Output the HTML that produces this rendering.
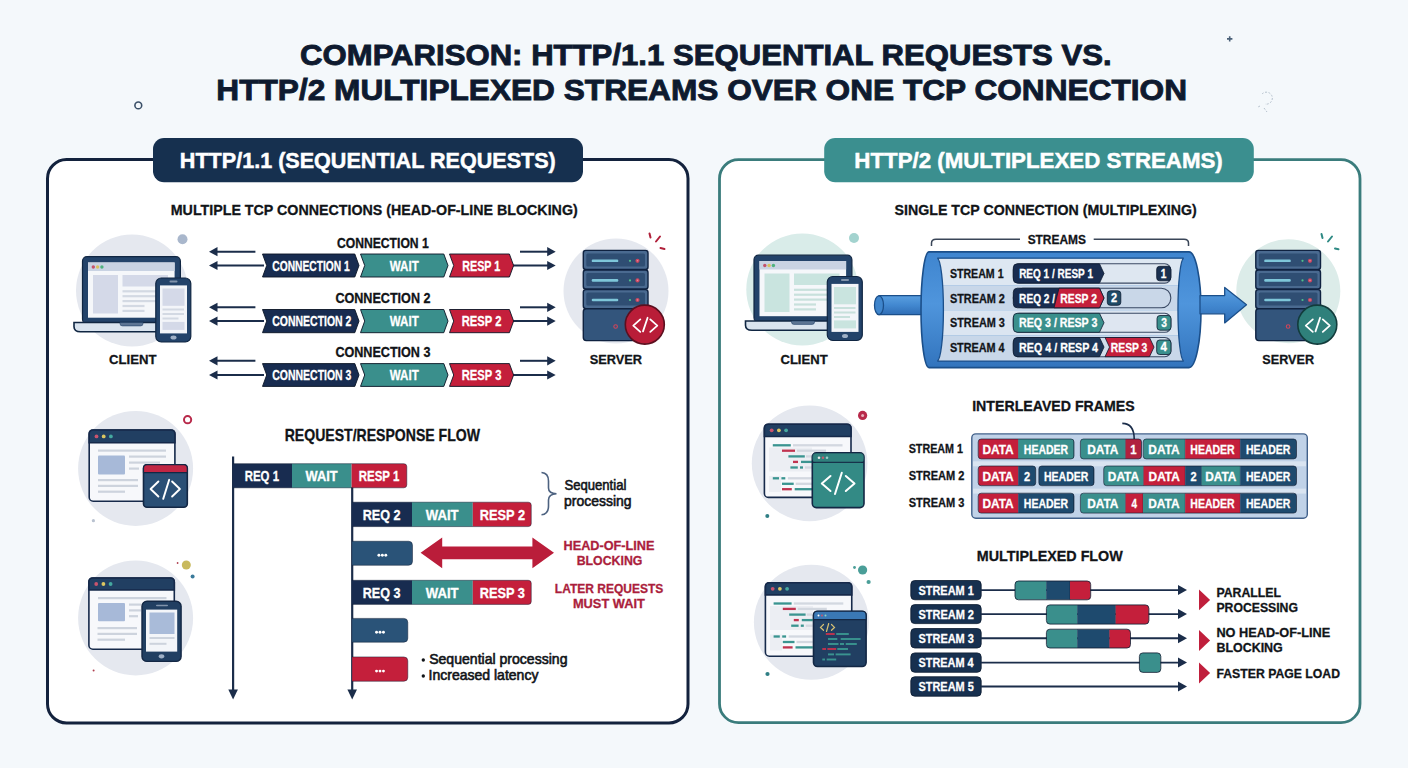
<!DOCTYPE html>
<html><head><meta charset="utf-8"><style>
html,body{margin:0;padding:0;width:1408px;height:768px;overflow:hidden;background:#f4f8fb}
svg{display:block;font-family:"Liberation Sans",sans-serif}
</style></head><body>
<svg width="1408" height="768" viewBox="0 0 1408 768">
<rect x="0" y="0" width="1408" height="768" fill="#f4f8fb"/>
<circle cx="138.3" cy="105.4" r="3.4" fill="none" stroke="#3b5068" stroke-width="1.6"/>
<path d="M1227 38.9h5.4M1229.7 36.2v5.4" stroke="#4a6078" stroke-width="1.6"/>
<path d="M1262 94 a6 6 0 1 1 3 10 M1260 106 l-2 1 M1264 108 l3 4" fill="none" stroke="#b0bcc8" stroke-width="0.9" stroke-dasharray="2 1.5"/>
<text x="300.03" y="64.80" font-size="30.38" font-weight="bold" fill="#0e1a2f" textLength="811.61" lengthAdjust="spacingAndGlyphs" stroke="#0e1a2f" stroke-width="0.90">COMPARISON: HTTP/1.1 SEQUENTIAL REQUESTS VS.</text>
<text x="216.39" y="100.20" font-size="30.23" font-weight="bold" fill="#0e1a2f" textLength="970.63" lengthAdjust="spacingAndGlyphs" stroke="#0e1a2f" stroke-width="0.90">HTTP/2 MULTIPLEXED STREAMS OVER ONE TCP CONNECTION</text>
<rect x="47.5" y="159.5" width="640.5" height="563.4" rx="19" fill="#ffffff" stroke="#13223d" stroke-width="3"/>
<rect x="153" y="138" width="430" height="44.2" rx="11" fill="#16304f"/>
<text x="179.86" y="167.80" font-size="22.24" font-weight="bold" fill="#ffffff" textLength="375.91" lengthAdjust="spacingAndGlyphs" stroke="#ffffff" stroke-width="0.50">HTTP/1.1 (SEQUENTIAL REQUESTS)</text>
<text x="170.75" y="215.20" font-size="15.12" font-weight="bold" fill="#111418" textLength="406.96" lengthAdjust="spacingAndGlyphs" stroke="#111418" stroke-width="0.30">MULTIPLE TCP CONNECTIONS (HEAD-OF-LINE BLOCKING)</text>
<rect x="719.5" y="159.7" width="640.5" height="563" rx="19" fill="#ffffff" stroke="#3a7c7c" stroke-width="2.8"/>
<rect x="824.2" y="138" width="429.6" height="44.2" rx="11" fill="#3b8f8f"/>
<text x="854.32" y="167.80" font-size="22.24" font-weight="bold" fill="#ffffff" textLength="368.49" lengthAdjust="spacingAndGlyphs" stroke="#ffffff" stroke-width="0.50">HTTP/2 (MULTIPLEXED STREAMS)</text>
<text x="894.59" y="215.20" font-size="15.12" font-weight="bold" fill="#111418" textLength="302.11" lengthAdjust="spacingAndGlyphs" stroke="#111418" stroke-width="0.30">SINGLE TCP CONNECTION (MULTIPLEXING)</text>
<circle cx="132" cy="290.6" r="56" fill="#e5e8ef"/>
<circle cx="182.5" cy="239.2" r="5" fill="#a9b7cc"/>
<rect x="82.50" y="256.70" width="97.9" height="67" rx="4.5" fill="#23436a" stroke="#102642" stroke-width="1.2"/><rect x="88.00" y="262.50" width="86.6" height="55.2" fill="#f5f7fa"/><rect x="88.00" y="262.50" width="86.6" height="8.5" fill="#c9d3e3"/><circle cx="93.30" cy="267.00" r="1.7" fill="#c4526c"/><circle cx="97.60" cy="267.00" r="1.7" fill="#d8c25e"/><circle cx="101.90" cy="267.00" r="1.7" fill="#4fb27e"/><rect x="93.00" y="275.00" width="25" height="38.5" fill="#d4d9e8"/><rect x="122.50" y="275.00" width="45.5" height="11.5" fill="#d4d9e8"/><rect x="122.50" y="290.20" width="42" height="2.2" fill="#d3d9e3"/><rect x="122.50" y="295.10" width="42" height="2.2" fill="#d3d9e3"/><rect x="122.50" y="300.00" width="42" height="2.2" fill="#d3d9e3"/><rect x="122.50" y="304.90" width="22" height="2.2" fill="#d3d9e3"/><rect x="122.50" y="309.80" width="22" height="2.2" fill="#d3d9e3"/><path d="M74.00 322.50 H189.00 a3 3 0 0 1 0 0 L189.00 326.70 Q189.00 331.70 182.50 331.70 H80.50 Q74.00 331.70 74.00 326.70 Z" fill="#d9e3ee" stroke="#102642" stroke-width="1.6"/><path d="M120.00 322.50 h23 v1.2 q0 2.2 -2.5 2.2 h-18 q-2.5 0 -2.5 -2.2 z" fill="#5d7594" stroke="#23436a" stroke-width="0.6"/><rect x="155.80" y="278.00" width="35" height="64" rx="5.5" fill="#23436a" stroke="#102642" stroke-width="1.2"/><rect x="160.00" y="285.40" width="27" height="48" fill="#f3f5f9"/><rect x="169.50" y="280.60" width="8" height="1.8" rx="0.9" fill="#8193ab"/><ellipse cx="173.50" cy="337.50" rx="3" ry="2" fill="#9fb0c6"/><rect x="162.50" y="288.50" width="22" height="17.3" fill="#d4d9e8"/><rect x="162.50" y="308.50" width="21.5" height="2" fill="#d3d9e3"/><rect x="162.50" y="313.00" width="21.5" height="2" fill="#d3d9e3"/><rect x="162.50" y="317.50" width="16.0" height="2" fill="#d3d9e3"/><rect x="162.50" y="321.90" width="22" height="8" fill="#d4d9e8"/>
<text x="109.06" y="363.50" font-size="13.66" font-weight="bold" fill="#111418" textLength="47.38" lengthAdjust="spacingAndGlyphs" stroke="#111418" stroke-width="0.30">CLIENT</text>
<circle cx="616" cy="291" r="52.5" fill="#e5e8ef"/>
<rect x="583.30" y="250.40" width="64.70" height="19" rx="2.5" fill="#4a6a90" stroke="#0f2240" stroke-width="1.4"/><rect x="586.30" y="253.40" width="58.70" height="13" rx="1.5" fill="#2f4e73"/><rect x="591.70" y="259.50" width="26.6" height="2.6" rx="1.2" fill="#7ec6d9"/><circle cx="630.00" cy="260.80" r="1.1" fill="#4fc08a"/><circle cx="637.50" cy="260.80" r="2.1" fill="#c94660"/><circle cx="637.50" cy="260.80" r="0.8" fill="#e88a9a"/><rect x="583.30" y="270.00" width="64.70" height="19" rx="2.5" fill="#4a6a90" stroke="#0f2240" stroke-width="1.4"/><rect x="586.30" y="273.00" width="58.70" height="13" rx="1.5" fill="#2f4e73"/><rect x="591.70" y="279.10" width="26.6" height="2.6" rx="1.2" fill="#7ec6d9"/><circle cx="630.00" cy="280.40" r="1.1" fill="#4fc08a"/><circle cx="637.50" cy="280.40" r="2.1" fill="#c94660"/><circle cx="637.50" cy="280.40" r="0.8" fill="#e88a9a"/><rect x="583.30" y="289.60" width="64.70" height="19" rx="2.5" fill="#4a6a90" stroke="#0f2240" stroke-width="1.4"/><rect x="586.30" y="292.60" width="58.70" height="13" rx="1.5" fill="#2f4e73"/><rect x="591.70" y="298.70" width="26.6" height="2.6" rx="1.2" fill="#7ec6d9"/><circle cx="630.00" cy="300.00" r="1.1" fill="#4fc08a"/><circle cx="637.50" cy="300.00" r="2.1" fill="#c94660"/><circle cx="637.50" cy="300.00" r="0.8" fill="#e88a9a"/><rect x="583.30" y="308.80" width="64.70" height="31.8" rx="3" fill="#33557c" stroke="#0f2240" stroke-width="1.4"/><circle cx="615.60" cy="326.50" r="1.8" fill="none" stroke="#d0455a" stroke-width="1.1"/><circle cx="644.80" cy="324.60" r="19.5" fill="#b91d38" stroke="#5c0f1f" stroke-width="1.6"/><path d="M640.30 319.40l-7 6.2 7 6.2M650.30 319.40l7 6.2-7 6.2M647.60 317.80l-4.6 13.6" fill="none" stroke="#fff" stroke-width="1.8" stroke-linecap="round" stroke-linejoin="round"/>
<path d="M649.5 233.5l1 4M656 241.5l4-5M660.5 248l4 1" stroke="#b0203a" stroke-width="2" stroke-linecap="round"/>
<text x="589.63" y="363.50" font-size="13.66" font-weight="bold" fill="#111418" textLength="52.33" lengthAdjust="spacingAndGlyphs" stroke="#111418" stroke-width="0.30">SERVER</text>
<text x="337.00" y="248.20" font-size="13.81" font-weight="bold" fill="#111418" textLength="91.74" lengthAdjust="spacingAndGlyphs" stroke="#111418" stroke-width="0.30">CONNECTION 1</text>
<path d="M216.50 251.70H255.40" stroke="#1b2d4a" stroke-width="2.00"/><polygon points="209.00,251.70 217.50,247.10 217.50,256.30" fill="#1b2d4a"/>
<path d="M216.50 265.50H264.00" stroke="#1b2d4a" stroke-width="2.00"/><polygon points="209.00,265.50 217.50,260.90 217.50,270.10" fill="#1b2d4a"/>
<path d="M520.00 251.70H548.20" stroke="#1b2d4a" stroke-width="2.00"/><polygon points="555.70,251.70 547.20,247.10 547.20,256.30" fill="#1b2d4a"/>
<path d="M513.00 265.50H548.20" stroke="#1b2d4a" stroke-width="2.00"/><polygon points="555.70,265.50 547.20,260.90 547.20,270.10" fill="#1b2d4a"/>
<polygon points="262.50,254.00 354.80,254.00 359.00,265.50 354.80,277.00 262.50,277.00 266.70,265.50" fill="#182c50" stroke="#0b1526" stroke-width="0.9" stroke-linejoin="round"/>
<polygon points="360.50,254.00 443.80,254.00 448.00,265.50 443.80,277.00 360.50,277.00 364.70,265.50" fill="#3a8f8c" stroke="#0b1526" stroke-width="0.9" stroke-linejoin="round"/>
<polygon points="449.50,254.00 509.40,254.00 513.60,265.50 509.40,277.00 449.50,277.00 453.70,265.50" fill="#c41f3b" stroke="#0b1526" stroke-width="0.9" stroke-linejoin="round"/>
<text x="272.28" y="270.70" font-size="13.95" font-weight="bold" fill="#fff" textLength="77.51" lengthAdjust="spacingAndGlyphs" stroke="#fff" stroke-width="0.30">CONNECTION 1</text>
<text x="389.79" y="270.70" font-size="13.95" font-weight="bold" fill="#fff" textLength="28.93" lengthAdjust="spacingAndGlyphs" stroke="#fff" stroke-width="0.30">WAIT</text>
<text x="462.29" y="270.70" font-size="13.95" font-weight="bold" fill="#fff" textLength="38.01" lengthAdjust="spacingAndGlyphs" stroke="#fff" stroke-width="0.30">RESP 1</text>
<text x="335.38" y="303.20" font-size="13.81" font-weight="bold" fill="#111418" textLength="95.12" lengthAdjust="spacingAndGlyphs" stroke="#111418" stroke-width="0.30">CONNECTION 2</text>
<path d="M216.50 307.30H255.40" stroke="#1b2d4a" stroke-width="2.00"/><polygon points="209.00,307.30 217.50,302.70 217.50,311.90" fill="#1b2d4a"/>
<path d="M216.50 321.10H264.00" stroke="#1b2d4a" stroke-width="2.00"/><polygon points="209.00,321.10 217.50,316.50 217.50,325.70" fill="#1b2d4a"/>
<path d="M520.00 307.30H548.20" stroke="#1b2d4a" stroke-width="2.00"/><polygon points="555.70,307.30 547.20,302.70 547.20,311.90" fill="#1b2d4a"/>
<path d="M513.00 321.10H548.20" stroke="#1b2d4a" stroke-width="2.00"/><polygon points="555.70,321.10 547.20,316.50 547.20,325.70" fill="#1b2d4a"/>
<polygon points="262.50,309.50 354.80,309.50 359.00,321.10 354.80,332.70 262.50,332.70 266.70,321.10" fill="#182c50" stroke="#0b1526" stroke-width="0.9" stroke-linejoin="round"/>
<polygon points="360.50,309.50 443.80,309.50 448.00,321.10 443.80,332.70 360.50,332.70 364.70,321.10" fill="#3a8f8c" stroke="#0b1526" stroke-width="0.9" stroke-linejoin="round"/>
<polygon points="449.50,309.50 509.40,309.50 513.60,321.10 509.40,332.70 449.50,332.70 453.70,321.10" fill="#c41f3b" stroke="#0b1526" stroke-width="0.9" stroke-linejoin="round"/>
<text x="272.27" y="326.20" font-size="13.95" font-weight="bold" fill="#fff" textLength="79.15" lengthAdjust="spacingAndGlyphs" stroke="#fff" stroke-width="0.30">CONNECTION 2</text>
<text x="389.79" y="326.20" font-size="13.95" font-weight="bold" fill="#fff" textLength="28.93" lengthAdjust="spacingAndGlyphs" stroke="#fff" stroke-width="0.30">WAIT</text>
<text x="461.75" y="326.20" font-size="13.95" font-weight="bold" fill="#fff" textLength="39.69" lengthAdjust="spacingAndGlyphs" stroke="#fff" stroke-width="0.30">RESP 2</text>
<text x="335.38" y="356.80" font-size="13.81" font-weight="bold" fill="#111418" textLength="95.07" lengthAdjust="spacingAndGlyphs" stroke="#111418" stroke-width="0.30">CONNECTION 3</text>
<path d="M216.50 360.80H255.40" stroke="#1b2d4a" stroke-width="2.00"/><polygon points="209.00,360.80 217.50,356.20 217.50,365.40" fill="#1b2d4a"/>
<path d="M216.50 375.00H264.00" stroke="#1b2d4a" stroke-width="2.00"/><polygon points="209.00,375.00 217.50,370.40 217.50,379.60" fill="#1b2d4a"/>
<path d="M520.00 360.80H548.20" stroke="#1b2d4a" stroke-width="2.00"/><polygon points="555.70,360.80 547.20,356.20 547.20,365.40" fill="#1b2d4a"/>
<path d="M513.00 375.00H548.20" stroke="#1b2d4a" stroke-width="2.00"/><polygon points="555.70,375.00 547.20,370.40 547.20,379.60" fill="#1b2d4a"/>
<polygon points="262.50,363.60 354.80,363.60 359.00,375.00 354.80,386.40 262.50,386.40 266.70,375.00" fill="#182c50" stroke="#0b1526" stroke-width="0.9" stroke-linejoin="round"/>
<polygon points="360.50,363.60 443.80,363.60 448.00,375.00 443.80,386.40 360.50,386.40 364.70,375.00" fill="#3a8f8c" stroke="#0b1526" stroke-width="0.9" stroke-linejoin="round"/>
<polygon points="449.50,363.60 509.40,363.60 513.60,375.00 509.40,386.40 449.50,386.40 453.70,375.00" fill="#c41f3b" stroke="#0b1526" stroke-width="0.9" stroke-linejoin="round"/>
<text x="272.27" y="380.30" font-size="13.95" font-weight="bold" fill="#fff" textLength="79.11" lengthAdjust="spacingAndGlyphs" stroke="#fff" stroke-width="0.30">CONNECTION 3</text>
<text x="389.79" y="380.30" font-size="13.95" font-weight="bold" fill="#fff" textLength="28.93" lengthAdjust="spacingAndGlyphs" stroke="#fff" stroke-width="0.30">WAIT</text>
<text x="461.75" y="380.30" font-size="13.95" font-weight="bold" fill="#fff" textLength="39.65" lengthAdjust="spacingAndGlyphs" stroke="#fff" stroke-width="0.30">RESP 3</text>
<circle cx="135.6" cy="468.4" r="57.5" fill="#e5e8ef"/>
<circle cx="187.6" cy="419.7" r="3.6" fill="none" stroke="#b8294a" stroke-width="2"/>
<circle cx="93.4" cy="520.7" r="1.6" fill="#b9c2d0"/>
<rect x="89.20" y="430.00" width="85.70" height="71.20" rx="4" fill="#f7f8fb" stroke="#16294a" stroke-width="1.6"/><path d="M89.20 442.80 V434.00 Q89.20 430.00 93.20 430.00 H170.90 Q174.90 430.00 174.90 434.00 V442.80 Z" fill="#213f62" stroke="#16294a" stroke-width="1.6"/><circle cx="96.50" cy="436.40" r="1.9" fill="#c9546e"/><circle cx="103.70" cy="436.40" r="1.9" fill="#dcc661"/><circle cx="110.90" cy="436.40" r="1.9" fill="#45a9a0"/>
<rect x="98" y="449.5" width="68" height="2.2" fill="#cdd3dd"/>
<rect x="98" y="455.5" width="27" height="19" rx="1" fill="#a7b9d8"/>
<rect x="129" y="455.50" width="37" height="2.2" fill="#cdd3dd"/>
<rect x="129" y="461.50" width="31" height="2.2" fill="#cdd3dd"/>
<rect x="129" y="467.50" width="10" height="2.2" fill="#cdd3dd"/>
<rect x="98" y="479.00" width="40" height="2.2" fill="#cdd3dd"/>
<rect x="98" y="484.80" width="40" height="2.2" fill="#cdd3dd"/>
<rect x="98" y="490.60" width="27" height="2.2" fill="#cdd3dd"/>
<rect x="143.5" y="464.7" width="43.8" height="42.5" rx="3.5" fill="#2a4f75" stroke="#132744" stroke-width="1.6"/>
<path d="M143.5 472.6 V468.2 Q143.5 464.7 147 464.7 H183.8 Q187.3 464.7 187.3 468.2 V472.6 Z" fill="#c12644" stroke="#132744" stroke-width="1.2"/>
<path d="M158.4 481.5L150.6 489 158.4 496.5M172.1 481.5L179.9 489 172.1 496.5M169.2 479.8L163.2 498.9" fill="none" stroke="#fff" stroke-width="1.9" stroke-linecap="round" stroke-linejoin="round"/>
<circle cx="135.6" cy="617.9" r="57.5" fill="#e5e8ef"/>
<circle cx="186.3" cy="565" r="4.5" fill="#c8b95c"/>
<circle cx="192.6" cy="576.5" r="2" fill="#3a7a9a"/>
<circle cx="177.6" cy="563" r="0.9" fill="#b04050"/>
<circle cx="93.6" cy="670.6" r="1" fill="#b04050"/>
<rect x="88.90" y="578.00" width="85.40" height="71.20" rx="4" fill="#f7f8fb" stroke="#16294a" stroke-width="1.6"/><path d="M88.90 590.00 V582.00 Q88.90 578.00 92.90 578.00 H170.30 Q174.30 578.00 174.30 582.00 V590.00 Z" fill="#213f62" stroke="#16294a" stroke-width="1.6"/><circle cx="96.20" cy="584.00" r="1.9" fill="#c9546e"/><circle cx="103.40" cy="584.00" r="1.9" fill="#dcc661"/><circle cx="110.60" cy="584.00" r="1.9" fill="#45a9a0"/>
<rect x="98" y="597" width="68.5" height="2.2" fill="#cdd3dd"/>
<rect x="98" y="603" width="27" height="18.3" rx="1" fill="#a7b9d8"/>
<rect x="129" y="603.50" width="12" height="2.2" fill="#cdd3dd"/>
<rect x="129" y="609.30" width="12" height="2.2" fill="#cdd3dd"/>
<rect x="129" y="615.10" width="9" height="2.2" fill="#cdd3dd"/>
<rect x="97.5" y="627.00" width="39.5" height="2.2" fill="#cdd3dd"/>
<rect x="97.5" y="632.80" width="39.5" height="2.2" fill="#cdd3dd"/>
<rect x="97.5" y="638.60" width="27.5" height="2.2" fill="#cdd3dd"/>
<rect x="142" y="601.2" width="39.1" height="60.2" rx="5" fill="#213f62" stroke="#132744" stroke-width="1.4"/>
<rect x="146" y="609.6" width="31.2" height="42" fill="#f3f5f9"/>
<rect x="149.5" y="612.5" width="25" height="21.5" fill="#a9bbd9"/>
<rect x="149.5" y="637" width="25" height="2" fill="#cdd3dd"/>
<rect x="149.5" y="642.8" width="17" height="2" fill="#cdd3dd"/>
<rect x="156" y="604.7" width="12" height="1.6" rx="0.8" fill="#8193ab"/>
<ellipse cx="161.5" cy="656.3" rx="2.8" ry="2.1" fill="#9fb0c6"/>
<text x="284.66" y="440.80" font-size="15.70" font-weight="bold" fill="#111418" textLength="195.35" lengthAdjust="spacingAndGlyphs" stroke="#111418" stroke-width="0.30">REQUEST/RESPONSE FLOW</text>
<path d="M233.1 456.5V692" stroke="#1b2d4a" stroke-width="2.2"/>
<polygon points="233.1,699.5 228.3,689.5 237.9,689.5" fill="#1b2d4a"/>
<path d="M352.2 487V692" stroke="#1b2d4a" stroke-width="2.2"/>
<polygon points="352.2,699.5 347.4,689.5 357,689.5" fill="#1b2d4a"/>
<rect x="233.10" y="463.70" width="58.90" height="24.10" fill="#182c50"/><rect x="292.00" y="463.70" width="59.60" height="24.10" fill="#3a8f8c"/><path d="M351.60 463.70 H403.80 Q406.80 463.70 406.80 466.70 V484.80 Q406.80 487.80 403.80 487.80 H351.60 Z" fill="#c41f3b"/><path d="M233.10 463.70 H403.80 Q406.80 463.70 406.80 466.70 V484.80 Q406.80 487.80 403.80 487.80 H233.10" fill="none" stroke="#0d1a30" stroke-width="0.8" opacity="0.6"/>
<text x="244.74" y="480.90" font-size="13.95" font-weight="bold" fill="#fff" textLength="34.28" lengthAdjust="spacingAndGlyphs" stroke="#fff" stroke-width="0.30">REQ 1</text>
<text x="305.49" y="480.90" font-size="13.95" font-weight="bold" fill="#fff" textLength="32.15" lengthAdjust="spacingAndGlyphs" stroke="#fff" stroke-width="0.30">WAIT</text>
<text x="358.74" y="480.90" font-size="13.95" font-weight="bold" fill="#fff" textLength="40.58" lengthAdjust="spacingAndGlyphs" stroke="#fff" stroke-width="0.30">RESP 1</text>
<rect x="352.20" y="502.20" width="59.80" height="24.40" fill="#182c50"/><rect x="412.00" y="502.20" width="60.80" height="24.40" fill="#3a8f8c"/><path d="M472.80 502.20 H528.25 Q531.25 502.20 531.25 505.20 V523.60 Q531.25 526.60 528.25 526.60 H472.80 Z" fill="#c41f3b"/><path d="M352.20 502.20 H528.25 Q531.25 502.20 531.25 505.20 V523.60 Q531.25 526.60 528.25 526.60 H352.20" fill="none" stroke="#0d1a30" stroke-width="0.8" opacity="0.6"/>
<text x="362.66" y="519.50" font-size="13.95" font-weight="bold" fill="#fff" textLength="37.85" lengthAdjust="spacingAndGlyphs" stroke="#fff" stroke-width="0.30">REQ 2</text>
<text x="425.79" y="519.50" font-size="13.95" font-weight="bold" fill="#fff" textLength="32.85" lengthAdjust="spacingAndGlyphs" stroke="#fff" stroke-width="0.30">WAIT</text>
<text x="479.75" y="519.50" font-size="13.95" font-weight="bold" fill="#fff" textLength="45.26" lengthAdjust="spacingAndGlyphs" stroke="#fff" stroke-width="0.30">RESP 2</text>
<rect x="352.20" y="580.30" width="59.80" height="24.10" fill="#182c50"/><rect x="412.00" y="580.30" width="60.80" height="24.10" fill="#3a8f8c"/><path d="M472.80 580.30 H528.25 Q531.25 580.30 531.25 583.30 V601.40 Q531.25 604.40 528.25 604.40 H472.80 Z" fill="#c41f3b"/><path d="M352.20 580.30 H528.25 Q531.25 580.30 531.25 583.30 V601.40 Q531.25 604.40 528.25 604.40 H352.20" fill="none" stroke="#0d1a30" stroke-width="0.8" opacity="0.6"/>
<text x="362.66" y="597.60" font-size="13.95" font-weight="bold" fill="#fff" textLength="37.80" lengthAdjust="spacingAndGlyphs" stroke="#fff" stroke-width="0.30">REQ 3</text>
<text x="425.79" y="597.60" font-size="13.95" font-weight="bold" fill="#fff" textLength="32.85" lengthAdjust="spacingAndGlyphs" stroke="#fff" stroke-width="0.30">WAIT</text>
<text x="479.75" y="597.60" font-size="13.95" font-weight="bold" fill="#fff" textLength="45.21" lengthAdjust="spacingAndGlyphs" stroke="#fff" stroke-width="0.30">RESP 3</text>
<path d="M352.20 541.25 H408.50 Q412.50 541.25 412.50 545.25 V561.30 Q412.50 565.30 408.50 565.30 H352.20 Z" fill="#2a5378"/><path d="M352.20 541.25 H408.50 Q412.50 541.25 412.50 545.25 V561.30 Q412.50 565.30 408.50 565.30 H352.20" fill="none" stroke="#0d1a30" stroke-width="0.8" opacity="0.6"/><circle cx="378.90" cy="555.27" r="1.45" fill="#fff"/><circle cx="382.35" cy="555.27" r="1.45" fill="#fff"/><circle cx="385.80" cy="555.27" r="1.45" fill="#fff"/>
<path d="M352.20 618.40 H403.80 Q407.80 618.40 407.80 622.40 V638.20 Q407.80 642.20 403.80 642.20 H352.20 Z" fill="#2a5378"/><path d="M352.20 618.40 H403.80 Q407.80 618.40 407.80 622.40 V638.20 Q407.80 642.20 403.80 642.20 H352.20" fill="none" stroke="#0d1a30" stroke-width="0.8" opacity="0.6"/><circle cx="376.55" cy="632.30" r="1.45" fill="#fff"/><circle cx="380.00" cy="632.30" r="1.45" fill="#fff"/><circle cx="383.45" cy="632.30" r="1.45" fill="#fff"/>
<path d="M352.20 656.90 H403.80 Q407.80 656.90 407.80 660.90 V677.25 Q407.80 681.25 403.80 681.25 H352.20 Z" fill="#c41f3b"/><path d="M352.20 656.90 H403.80 Q407.80 656.90 407.80 660.90 V677.25 Q407.80 681.25 403.80 681.25 H352.20" fill="none" stroke="#0d1a30" stroke-width="0.8" opacity="0.6"/><circle cx="376.55" cy="671.08" r="1.45" fill="#fff"/><circle cx="380.00" cy="671.08" r="1.45" fill="#fff"/><circle cx="383.45" cy="671.08" r="1.45" fill="#fff"/>
<polygon points="420.6,552.8 442.2,537.5 442.2,546.6 532.4,546.6 532.4,537.5 554,552.8 532.4,568.3 532.4,559.2 442.2,559.2 442.2,568.3" fill="#ba1d3a"/>
<path d="M541.5 472.5 Q548.5 473 548.5 481 V488 Q548.5 493.5 556.5 493.8 Q548.5 494.2 548.5 500 V506 Q548.5 514.3 541.5 514.7" fill="none" stroke="#4d6280" stroke-width="1.6"/>
<text x="564.40" y="490.40" font-size="14.68" font-weight="normal" fill="#111418" textLength="61.97" lengthAdjust="spacingAndGlyphs" stroke="#111418" stroke-width="0.6">Sequential</text>
<text x="564.10" y="505.60" font-size="14.68" font-weight="normal" fill="#111418" textLength="67.40" lengthAdjust="spacingAndGlyphs" stroke="#111418" stroke-width="0.6">processing</text>
<text x="563.55" y="549.50" font-size="13.37" font-weight="bold" fill="#ab1e3c" textLength="90.94" lengthAdjust="spacingAndGlyphs" stroke="#ab1e3c" stroke-width="0.30">HEAD-OF-LINE</text>
<text x="576.68" y="564.50" font-size="13.37" font-weight="bold" fill="#ab1e3c" textLength="65.69" lengthAdjust="spacingAndGlyphs" stroke="#ab1e3c" stroke-width="0.30">BLOCKING</text>
<text x="554.80" y="592.50" font-size="13.37" font-weight="bold" fill="#ab1e3c" textLength="108.46" lengthAdjust="spacingAndGlyphs" stroke="#ab1e3c" stroke-width="0.30">LATER REQUESTS</text>
<text x="572.90" y="607.50" font-size="13.37" font-weight="bold" fill="#ab1e3c" textLength="71.94" lengthAdjust="spacingAndGlyphs" stroke="#ab1e3c" stroke-width="0.30">MUST WAIT</text>
<circle cx="423.3" cy="660" r="1.7" fill="#111418"/>
<circle cx="423.3" cy="676" r="1.7" fill="#111418"/>
<text x="429.16" y="664.10" font-size="14.10" font-weight="normal" fill="#111418" textLength="138.34" lengthAdjust="spacingAndGlyphs" stroke="#111418" stroke-width="0.6">Sequential processing</text>
<text x="428.51" y="680.10" font-size="14.10" font-weight="normal" fill="#111418" textLength="109.92" lengthAdjust="spacingAndGlyphs" stroke="#111418" stroke-width="0.6">Increased latency</text>
<circle cx="802.3" cy="289.4" r="56" fill="#d9ece9"/>
<circle cx="854" cy="238" r="5" fill="#a3d3cf"/>
<rect x="754.00" y="255.20" width="97.9" height="67" rx="4.5" fill="#23436a" stroke="#102642" stroke-width="1.2"/><rect x="759.50" y="261.00" width="86.6" height="55.2" fill="#f5f7fa"/><rect x="759.50" y="261.00" width="86.6" height="8.5" fill="#c9d3e3"/><circle cx="764.80" cy="265.50" r="1.7" fill="#c4526c"/><circle cx="769.10" cy="265.50" r="1.7" fill="#d8c25e"/><circle cx="773.40" cy="265.50" r="1.7" fill="#4fb27e"/><rect x="764.50" y="273.50" width="25" height="38.5" fill="#c9e4df"/><rect x="794.00" y="273.50" width="45.5" height="11.5" fill="#c9e4df"/><rect x="794.00" y="288.70" width="42" height="2.2" fill="#c8e0dc"/><rect x="794.00" y="293.60" width="42" height="2.2" fill="#c8e0dc"/><rect x="794.00" y="298.50" width="42" height="2.2" fill="#c8e0dc"/><rect x="794.00" y="303.40" width="22" height="2.2" fill="#c8e0dc"/><rect x="794.00" y="308.30" width="22" height="2.2" fill="#c8e0dc"/><path d="M745.50 321.00 H860.50 a3 3 0 0 1 0 0 L860.50 325.20 Q860.50 330.20 854.00 330.20 H752.00 Q745.50 330.20 745.50 325.20 Z" fill="#d9e3ee" stroke="#102642" stroke-width="1.6"/><path d="M791.50 321.00 h23 v1.2 q0 2.2 -2.5 2.2 h-18 q-2.5 0 -2.5 -2.2 z" fill="#5d7594" stroke="#23436a" stroke-width="0.6"/><rect x="827.30" y="276.50" width="35" height="64" rx="5.5" fill="#23436a" stroke="#102642" stroke-width="1.2"/><rect x="831.50" y="283.90" width="27" height="48" fill="#f3f5f9"/><rect x="841.00" y="279.10" width="8" height="1.8" rx="0.9" fill="#8193ab"/><ellipse cx="845.00" cy="336.00" rx="3" ry="2" fill="#9fb0c6"/><rect x="834.00" y="287.00" width="22" height="17.3" fill="#c9e4df"/><rect x="834.00" y="307.00" width="21.5" height="2" fill="#c8e0dc"/><rect x="834.00" y="311.50" width="21.5" height="2" fill="#c8e0dc"/><rect x="834.00" y="316.00" width="16.0" height="2" fill="#c8e0dc"/><rect x="834.00" y="320.40" width="22" height="8" fill="#c9e4df"/>
<text x="780.46" y="363.50" font-size="13.66" font-weight="bold" fill="#111418" textLength="47.18" lengthAdjust="spacingAndGlyphs" stroke="#111418" stroke-width="0.30">CLIENT</text>
<circle cx="1288.3" cy="291.25" r="52" fill="#dcece9"/>
<rect x="1255.80" y="250.40" width="64.70" height="19" rx="2.5" fill="#4a6a90" stroke="#0f2240" stroke-width="1.4"/><rect x="1258.80" y="253.40" width="58.70" height="13" rx="1.5" fill="#2f4e73"/><rect x="1264.20" y="259.50" width="26.6" height="2.6" rx="1.2" fill="#7ec6d9"/><circle cx="1302.50" cy="260.80" r="1.1" fill="#4fc08a"/><circle cx="1310.00" cy="260.80" r="2.1" fill="#c94660"/><circle cx="1310.00" cy="260.80" r="0.8" fill="#e88a9a"/><rect x="1255.80" y="270.00" width="64.70" height="19" rx="2.5" fill="#4a6a90" stroke="#0f2240" stroke-width="1.4"/><rect x="1258.80" y="273.00" width="58.70" height="13" rx="1.5" fill="#2f4e73"/><rect x="1264.20" y="279.10" width="26.6" height="2.6" rx="1.2" fill="#7ec6d9"/><circle cx="1302.50" cy="280.40" r="1.1" fill="#4fc08a"/><circle cx="1310.00" cy="280.40" r="2.1" fill="#c94660"/><circle cx="1310.00" cy="280.40" r="0.8" fill="#e88a9a"/><rect x="1255.80" y="289.60" width="64.70" height="19" rx="2.5" fill="#4a6a90" stroke="#0f2240" stroke-width="1.4"/><rect x="1258.80" y="292.60" width="58.70" height="13" rx="1.5" fill="#2f4e73"/><rect x="1264.20" y="298.70" width="26.6" height="2.6" rx="1.2" fill="#7ec6d9"/><circle cx="1302.50" cy="300.00" r="1.1" fill="#4fc08a"/><circle cx="1310.00" cy="300.00" r="2.1" fill="#c94660"/><circle cx="1310.00" cy="300.00" r="0.8" fill="#e88a9a"/><rect x="1255.80" y="308.80" width="64.70" height="31.8" rx="3" fill="#33557c" stroke="#0f2240" stroke-width="1.4"/><circle cx="1288.10" cy="326.50" r="1.8" fill="none" stroke="#d0455a" stroke-width="1.1"/><circle cx="1317.30" cy="324.60" r="19.5" fill="#2f807b" stroke="#123c3c" stroke-width="1.6"/><path d="M1312.80 319.40l-7 6.2 7 6.2M1322.80 319.40l7 6.2-7 6.2M1320.10 317.80l-4.6 13.6" fill="none" stroke="#fff" stroke-width="1.8" stroke-linecap="round" stroke-linejoin="round"/>
<path d="M1321.5 234l1 4M1328 241.5l4-5M1335 248.5l3.5 0.8" stroke="#2f8a84" stroke-width="2" stroke-linecap="round"/>
<text x="1262.34" y="363.50" font-size="13.66" font-weight="bold" fill="#111418" textLength="51.67" lengthAdjust="spacingAndGlyphs" stroke="#111418" stroke-width="0.30">SERVER</text>
<defs><linearGradient id="pipeg" x1="0" y1="0" x2="0" y2="1"><stop offset="0" stop-color="#5a9fe0"/><stop offset="0.5" stop-color="#4288d0"/><stop offset="1" stop-color="#2f6db5"/></linearGradient><linearGradient id="cylg" x1="0" y1="0" x2="0" y2="1"><stop offset="0" stop-color="#3f85cf"/><stop offset="0.45" stop-color="#4f95dc"/><stop offset="1" stop-color="#3274bd"/></linearGradient></defs>
<path d="M879 295.7 H932 A3 9.5 0 0 1 932 314.7 H879 Z" fill="url(#pipeg)" stroke="#1b4f8a" stroke-width="1.3"/>
<ellipse cx="879" cy="305.2" rx="4.5" ry="9.4" fill="#3f85cc" stroke="#1b4f8a" stroke-width="1.3"/>
<path d="M929 251.9 H1189 A12 57.8 0 0 1 1189 367.6 H929 A8 57.8 0 0 1 929 251.9 Z" fill="url(#cylg)" stroke="#1b4f8a" stroke-width="1.6"/>
<clipPath id="innerclip"><path d="M937.3 258.2 H1183.7 A6 51.5 0 0 0 1183.7 361.1 H937.3 A6.4 51.5 0 0 0 937.3 258.2 Z"/></clipPath>
<g clip-path="url(#innerclip)"><rect x="930" y="258.2" width="260" height="27" fill="#dde7f2"/><rect x="930" y="285.2" width="260" height="25" fill="#c8d7e9"/><rect x="930" y="310.2" width="260" height="25" fill="#dbe5f1"/><rect x="930" y="335.2" width="260" height="26" fill="#c8d7e9"/></g>
<path d="M937.3 258.2 H1183.7 A6 51.5 0 0 0 1183.7 361.1 H937.3 A6.4 51.5 0 0 0 937.3 258.2 Z" fill="none" stroke="#1b4f8a" stroke-width="1.3"/>
<polygon points="1200,295.6 1224.7,295.6 1224.7,287.4 1246.5,304.7 1224.7,322.9 1224.7,313.8 1200,313.8" fill="url(#pipeg)" stroke="#1b4f8a" stroke-width="1.3" stroke-linejoin="round"/>
<path d="M931.5 246 V243 Q931.5 239.2 936 239.2 H1020" fill="none" stroke="#3a4658" stroke-width="1.5"/>
<path d="M1093.7 239.2 H1184 Q1188.5 239.2 1188.5 243 V246" fill="none" stroke="#3a4658" stroke-width="1.5"/>
<text x="1027.66" y="243.75" font-size="13.52" font-weight="bold" fill="#111418" textLength="58.21" lengthAdjust="spacingAndGlyphs" stroke="#111418" stroke-width="0.30">STREAMS</text>
<text x="949.89" y="278.00" font-size="12.50" font-weight="bold" fill="#111418" textLength="53.70" lengthAdjust="spacingAndGlyphs" stroke="#111418" stroke-width="0.30">STREAM 1</text>
<rect x="1013.3" y="263.80" width="157.5" height="19.30" rx="6.0" fill="#dfe7f1" stroke="#2a3a55" stroke-width="1.1" opacity="0.9"/>
<text x="949.89" y="302.50" font-size="12.50" font-weight="bold" fill="#111418" textLength="55.05" lengthAdjust="spacingAndGlyphs" stroke="#111418" stroke-width="0.30">STREAM 2</text>
<rect x="1013.3" y="288.20" width="157.5" height="19.60" rx="9.5" fill="#cad7e8" stroke="#2a3a55" stroke-width="1.1" opacity="0.9"/>
<text x="949.89" y="327.00" font-size="12.50" font-weight="bold" fill="#111418" textLength="55.01" lengthAdjust="spacingAndGlyphs" stroke="#111418" stroke-width="0.30">STREAM 3</text>
<rect x="1013.3" y="313.30" width="157.5" height="19.00" rx="6.0" fill="#dfe7f1" stroke="#2a3a55" stroke-width="1.1" opacity="0.9"/>
<text x="949.89" y="351.50" font-size="12.50" font-weight="bold" fill="#111418" textLength="54.67" lengthAdjust="spacingAndGlyphs" stroke="#111418" stroke-width="0.30">STREAM 4</text>
<rect x="1013.3" y="337.50" width="157.5" height="19.20" rx="6.0" fill="#d3deeb" stroke="#2a3a55" stroke-width="1.1" opacity="0.9"/>
<path d="M1017.30 263.80 H1099.50 L1104.00 273.45 L1099.50 283.10 H1017.30 Q1013.30 283.10 1013.30 279.10 V267.80 Q1013.30 263.80 1017.30 263.80 Z" fill="#182c50" stroke="#0d1a30" stroke-width="0.8"/>
<text x="1019.13" y="278.40" font-size="12.50" font-weight="bold" fill="#fff" textLength="73.85" lengthAdjust="spacingAndGlyphs" stroke="#fff" stroke-width="0.30">REQ 1 / RESP 1</text>
<rect x="1156.70" y="266.30" width="14.10" height="14.50" rx="3" fill="#1a3050" stroke="#0d1a30" stroke-width="0.8"/>
<text x="1160.66" y="277.90" font-size="12.50" font-weight="bold" fill="#fff" textLength="5.62" lengthAdjust="spacingAndGlyphs" stroke="#fff" stroke-width="0.30">1</text>
<path d="M1017.30 288.20 H1099.50 L1104.00 298.00 L1099.50 307.80 H1017.30 Q1013.30 307.80 1013.30 303.80 V292.20 Q1013.30 288.20 1017.30 288.20 Z" fill="#182c50" stroke="#0d1a30" stroke-width="0.8"/>
<path d="M1059 288.20 H1099.5 L1104 298.00 L1099.5 307.80 H1054 Z" fill="#c41f3b" stroke="#0d1a30" stroke-width="0.8"/>
<text x="1019.12" y="302.90" font-size="12.50" font-weight="bold" fill="#fff" textLength="35.98" lengthAdjust="spacingAndGlyphs" stroke="#fff" stroke-width="0.30">REQ 2 /</text>
<text x="1060.31" y="302.90" font-size="12.50" font-weight="bold" fill="#fff" textLength="36.60" lengthAdjust="spacingAndGlyphs" stroke="#fff" stroke-width="0.30">RESP 2</text>
<rect x="1107.30" y="290.80" width="13.50" height="14.50" rx="3" fill="#1f4a66" stroke="#0d1a30" stroke-width="0.8"/>
<text x="1111.12" y="302.40" font-size="12.50" font-weight="bold" fill="#fff" textLength="6.12" lengthAdjust="spacingAndGlyphs" stroke="#fff" stroke-width="0.30">2</text>
<path d="M1017.30 313.30 H1099.50 L1104.00 322.80 L1099.50 332.30 H1017.30 Q1013.30 332.30 1013.30 328.30 V317.30 Q1013.30 313.30 1017.30 313.30 Z" fill="#3a8f8c" stroke="#0d1a30" stroke-width="0.8"/>
<text x="1019.09" y="327.40" font-size="12.50" font-weight="bold" fill="#fff" textLength="78.29" lengthAdjust="spacingAndGlyphs" stroke="#fff" stroke-width="0.30">REQ 3 / RESP 3</text>
<rect x="1157.00" y="315.50" width="14.00" height="14.70" rx="3" fill="#3a8f8c" stroke="#0d1a30" stroke-width="0.8"/>
<text x="1161.26" y="327.20" font-size="12.50" font-weight="bold" fill="#fff" textLength="5.71" lengthAdjust="spacingAndGlyphs" stroke="#fff" stroke-width="0.30">3</text>
<path d="M1017.30 337.50 H1099.50 L1104.00 347.10 L1099.50 356.70 H1017.30 Q1013.30 356.70 1013.30 352.70 V341.50 Q1013.30 337.50 1017.30 337.50 Z" fill="#1c3557" stroke="#0d1a30" stroke-width="0.8"/>
<path d="M1105.00 337.50 H1149.50 L1154.00 347.10 L1149.50 356.70 H1105.00 L1109.50 347.10 Z" fill="#c41f3b" stroke="#0d1a30" stroke-width="0.8"/>
<text x="1019.09" y="351.90" font-size="12.50" font-weight="bold" fill="#fff" textLength="78.97" lengthAdjust="spacingAndGlyphs" stroke="#fff" stroke-width="0.30">REQ 4 / RESP 4</text>
<text x="1110.81" y="351.90" font-size="12.50" font-weight="bold" fill="#fff" textLength="36.56" lengthAdjust="spacingAndGlyphs" stroke="#fff" stroke-width="0.30">RESP 3</text>
<rect x="1156.70" y="340.00" width="14.30" height="14.50" rx="3" fill="#3a8f8c" stroke="#0d1a30" stroke-width="0.8"/>
<text x="1160.62" y="351.20" font-size="12.50" font-weight="bold" fill="#fff" textLength="6.44" lengthAdjust="spacingAndGlyphs" stroke="#fff" stroke-width="0.30">4</text>
<circle cx="809.6" cy="463.4" r="57.8" fill="#e5e8ef"/>
<circle cx="862.6" cy="415.4" r="4.6" fill="#b8294a"/>
<circle cx="862.6" cy="415.4" r="1.5" fill="#e8b0bc"/>
<circle cx="767.3" cy="516" r="2" fill="#2f7f85"/>
<rect x="764.40" y="424.20" width="86.60" height="73.20" rx="4" fill="#f7f8fb" stroke="#16294a" stroke-width="1.6"/><path d="M764.40 436.50 V428.20 Q764.40 424.20 768.40 424.20 H847.00 Q851.00 424.20 851.00 428.20 V436.50 Z" fill="#213f62" stroke="#16294a" stroke-width="1.6"/><circle cx="771.70" cy="430.35" r="1.9" fill="#c9546e"/><circle cx="778.90" cy="430.35" r="1.9" fill="#dcc661"/><circle cx="786.10" cy="430.35" r="1.9" fill="#45a9a0"/>
<rect x="769" y="447.5" width="43" height="24" fill="#eceef3"/>
<rect x="769" y="476" width="12" height="16" fill="#eceef3"/>
<rect x="772.80" y="444.15" width="18.00" height="2.3" fill="#3a9490"/><rect x="793.00" y="444.15" width="49.50" height="2.3" fill="#d3d8e0"/><rect x="782.00" y="449.55" width="13.00" height="2.3" fill="#c0334f"/><rect x="797.00" y="449.55" width="29.00" height="2.3" fill="#d3d8e0"/><rect x="788.40" y="455.25" width="16.40" height="2.3" fill="#3a9490"/><rect x="806.00" y="455.25" width="6.00" height="2.3" fill="#d3d8e0"/><rect x="793.00" y="460.75" width="5.00" height="2.3" fill="#c0334f"/><rect x="801.00" y="460.75" width="11.00" height="2.3" fill="#3a9490"/><rect x="790.40" y="466.35" width="7.40" height="2.3" fill="#3a9490"/><rect x="800.00" y="466.35" width="3.00" height="2.3" fill="#3a9490"/><rect x="805.00" y="466.35" width="7.00" height="2.3" fill="#d3d8e0"/><rect x="772.80" y="477.15" width="6.20" height="2.3" fill="#3a9490"/><rect x="781.40" y="477.15" width="3.90" height="2.3" fill="#3a9490"/><rect x="787.90" y="477.15" width="24.10" height="2.3" fill="#d3d8e0"/><rect x="782.00" y="482.65" width="11.70" height="2.3" fill="#3a9490"/><rect x="795.70" y="482.65" width="16.30" height="2.3" fill="#d3d8e0"/><rect x="782.00" y="488.05" width="9.80" height="2.3" fill="#c0334f"/><rect x="794.70" y="488.05" width="17.30" height="2.3" fill="#3a9490"/>
<rect x="812.3" y="452.9" width="51.7" height="54.7" rx="4" fill="#338a85" stroke="#132744" stroke-width="1.6"/>
<path d="M812.3 462.3 H864" stroke="#132744" stroke-width="1.4"/>
<rect x="812.3" y="452.9" width="51.7" height="9.4" rx="4" fill="#2e7b78" opacity="0.6"/>
<circle cx="819" cy="457.8" r="1.3" fill="#e8e8e8"/><circle cx="823" cy="457.8" r="1.3" fill="#c06070"/><circle cx="827" cy="457.8" r="1.3" fill="#9ad0c8"/>
<path d="M830.5 476L821.8 483.5 830.5 491M845.8 476L854.5 483.5 845.8 491M841.8 472.8L835 494" fill="none" stroke="#fff" stroke-width="2" stroke-linecap="round" stroke-linejoin="round"/>
<text x="972.16" y="411.00" font-size="14.10" font-weight="bold" fill="#111418" textLength="162.59" lengthAdjust="spacingAndGlyphs" stroke="#111418" stroke-width="0.30">INTERLEAVED FRAMES</text>
<text x="908.69" y="453.00" font-size="12.79" font-weight="bold" fill="#111418" textLength="54.31" lengthAdjust="spacingAndGlyphs" stroke="#111418" stroke-width="0.30">STREAM 1</text>
<text x="908.68" y="480.40" font-size="12.79" font-weight="bold" fill="#111418" textLength="55.76" lengthAdjust="spacingAndGlyphs" stroke="#111418" stroke-width="0.30">STREAM 2</text>
<text x="908.68" y="507.30" font-size="12.79" font-weight="bold" fill="#111418" textLength="55.72" lengthAdjust="spacingAndGlyphs" stroke="#111418" stroke-width="0.30">STREAM 3</text>
<rect x="971.8" y="433.9" width="335.5" height="84.3" rx="4" fill="#c0d2e8" stroke="#41608a" stroke-width="1.4"/>
<rect x="973" y="461.3" width="333" height="5" fill="#dfe8f3" opacity="0.8"/>
<rect x="973" y="488.6" width="333" height="5" fill="#dfe8f3" opacity="0.8"/>
<path d="M1122.3 423.4 Q1134 423.4 1134.2 438.9" fill="none" stroke="#1b2d4a" stroke-width="1.6"/>
<clipPath id="fc978_439"><rect x="978.20" y="439.00" width="95.80" height="19.90" rx="3"/></clipPath><g clip-path="url(#fc978_439)"><rect x="978.20" y="439.00" width="40.20" height="19.90" fill="#c41f3b"/><path d="M1018.40 439.00V458.90" stroke="#0d1a30" stroke-width="0.8" opacity="0.5"/><rect x="1018.40" y="439.00" width="55.60" height="19.90" fill="#3a8f8c"/><path d="M1074.00 439.00V458.90" stroke="#0d1a30" stroke-width="0.8" opacity="0.5"/></g><rect x="978.20" y="439.00" width="95.80" height="19.90" rx="3" fill="none" stroke="#0d1a30" stroke-width="0.9" opacity="0.7"/><text x="982.45" y="453.75" font-size="13.37" font-weight="bold" fill="#fff" textLength="31.25" lengthAdjust="spacingAndGlyphs" stroke="#fff" stroke-width="0.30">DATA</text><text x="1023.80" y="453.75" font-size="13.37" font-weight="bold" fill="#fff" textLength="44.32" lengthAdjust="spacingAndGlyphs" stroke="#fff" stroke-width="0.30">HEADER</text><clipPath id="fc1080_439"><rect x="1080.40" y="439.00" width="61.10" height="19.90" rx="3"/></clipPath><g clip-path="url(#fc1080_439)"><rect x="1080.40" y="439.00" width="45.20" height="19.90" fill="#3a8f8c"/><path d="M1125.60 439.00V458.90" stroke="#0d1a30" stroke-width="0.8" opacity="0.5"/><rect x="1125.60" y="439.00" width="15.90" height="19.90" fill="#b0223f"/><path d="M1141.50 439.00V458.90" stroke="#0d1a30" stroke-width="0.8" opacity="0.5"/></g><rect x="1080.40" y="439.00" width="61.10" height="19.90" rx="3" fill="none" stroke="#0d1a30" stroke-width="0.9" opacity="0.7"/><text x="1087.15" y="453.75" font-size="13.37" font-weight="bold" fill="#fff" textLength="31.25" lengthAdjust="spacingAndGlyphs" stroke="#fff" stroke-width="0.30">DATA</text><text x="1130.18" y="453.75" font-size="13.37" font-weight="bold" fill="#fff" textLength="6.33" lengthAdjust="spacingAndGlyphs" stroke="#fff" stroke-width="0.30">1</text><clipPath id="fc1143_439"><rect x="1143.20" y="439.00" width="153.30" height="19.90" rx="3"/></clipPath><g clip-path="url(#fc1143_439)"><rect x="1143.20" y="439.00" width="42.00" height="19.90" fill="#3a8f8c"/><path d="M1185.20 439.00V458.90" stroke="#0d1a30" stroke-width="0.8" opacity="0.5"/><rect x="1185.20" y="439.00" width="55.10" height="19.90" fill="#c41f3b"/><path d="M1240.30 439.00V458.90" stroke="#0d1a30" stroke-width="0.8" opacity="0.5"/><rect x="1240.30" y="439.00" width="56.20" height="19.90" fill="#1e4a6e"/><path d="M1296.50 439.00V458.90" stroke="#0d1a30" stroke-width="0.8" opacity="0.5"/></g><rect x="1143.20" y="439.00" width="153.30" height="19.90" rx="3" fill="none" stroke="#0d1a30" stroke-width="0.9" opacity="0.7"/><text x="1148.35" y="453.75" font-size="13.37" font-weight="bold" fill="#fff" textLength="31.25" lengthAdjust="spacingAndGlyphs" stroke="#fff" stroke-width="0.30">DATA</text><text x="1190.35" y="453.75" font-size="13.37" font-weight="bold" fill="#fff" textLength="44.32" lengthAdjust="spacingAndGlyphs" stroke="#fff" stroke-width="0.30">HEADER</text><text x="1246.00" y="453.75" font-size="13.37" font-weight="bold" fill="#fff" textLength="44.32" lengthAdjust="spacingAndGlyphs" stroke="#fff" stroke-width="0.30">HEADER</text>
<clipPath id="fc978_466"><rect x="978.20" y="466.00" width="57.50" height="19.70" rx="3"/></clipPath><g clip-path="url(#fc978_466)"><rect x="978.20" y="466.00" width="40.20" height="19.70" fill="#c41f3b"/><path d="M1018.40 466.00V485.70" stroke="#0d1a30" stroke-width="0.8" opacity="0.5"/><rect x="1018.40" y="466.00" width="17.30" height="19.70" fill="#1e4a6e"/><path d="M1035.70 466.00V485.70" stroke="#0d1a30" stroke-width="0.8" opacity="0.5"/></g><rect x="978.20" y="466.00" width="57.50" height="19.70" rx="3" fill="none" stroke="#0d1a30" stroke-width="0.9" opacity="0.7"/><text x="982.45" y="480.65" font-size="13.37" font-weight="bold" fill="#fff" textLength="31.25" lengthAdjust="spacingAndGlyphs" stroke="#fff" stroke-width="0.30">DATA</text><text x="1024.02" y="480.65" font-size="13.37" font-weight="bold" fill="#fff" textLength="6.12" lengthAdjust="spacingAndGlyphs" stroke="#fff" stroke-width="0.30">2</text><clipPath id="fc1038_466"><rect x="1038.80" y="466.00" width="55.20" height="19.70" rx="3"/></clipPath><g clip-path="url(#fc1038_466)"><rect x="1038.80" y="466.00" width="55.20" height="19.70" fill="#1e4a6e"/><path d="M1094.00 466.00V485.70" stroke="#0d1a30" stroke-width="0.8" opacity="0.5"/></g><rect x="1038.80" y="466.00" width="55.20" height="19.70" rx="3" fill="none" stroke="#0d1a30" stroke-width="0.9" opacity="0.7"/><text x="1044.00" y="480.65" font-size="13.37" font-weight="bold" fill="#fff" textLength="44.32" lengthAdjust="spacingAndGlyphs" stroke="#fff" stroke-width="0.30">HEADER</text><clipPath id="fc1103_466"><rect x="1103.70" y="466.00" width="192.80" height="19.70" rx="3"/></clipPath><g clip-path="url(#fc1103_466)"><rect x="1103.70" y="466.00" width="39.90" height="19.70" fill="#3a8f8c"/><path d="M1143.60 466.00V485.70" stroke="#0d1a30" stroke-width="0.8" opacity="0.5"/><rect x="1143.60" y="466.00" width="41.60" height="19.70" fill="#c41f3b"/><path d="M1185.20 466.00V485.70" stroke="#0d1a30" stroke-width="0.8" opacity="0.5"/><rect x="1185.20" y="466.00" width="16.50" height="19.70" fill="#1e4a6e"/><path d="M1201.70 466.00V485.70" stroke="#0d1a30" stroke-width="0.8" opacity="0.5"/><rect x="1201.70" y="466.00" width="38.60" height="19.70" fill="#3a8f8c"/><path d="M1240.30 466.00V485.70" stroke="#0d1a30" stroke-width="0.8" opacity="0.5"/><rect x="1240.30" y="466.00" width="56.20" height="19.70" fill="#1e4a6e"/><path d="M1296.50 466.00V485.70" stroke="#0d1a30" stroke-width="0.8" opacity="0.5"/></g><rect x="1103.70" y="466.00" width="192.80" height="19.70" rx="3" fill="none" stroke="#0d1a30" stroke-width="0.9" opacity="0.7"/><text x="1107.80" y="480.65" font-size="13.37" font-weight="bold" fill="#fff" textLength="31.25" lengthAdjust="spacingAndGlyphs" stroke="#fff" stroke-width="0.30">DATA</text><text x="1148.55" y="480.65" font-size="13.37" font-weight="bold" fill="#fff" textLength="31.25" lengthAdjust="spacingAndGlyphs" stroke="#fff" stroke-width="0.30">DATA</text><text x="1190.42" y="480.65" font-size="13.37" font-weight="bold" fill="#fff" textLength="6.12" lengthAdjust="spacingAndGlyphs" stroke="#fff" stroke-width="0.30">2</text><text x="1205.15" y="480.65" font-size="13.37" font-weight="bold" fill="#fff" textLength="31.25" lengthAdjust="spacingAndGlyphs" stroke="#fff" stroke-width="0.30">DATA</text><text x="1246.00" y="480.65" font-size="13.37" font-weight="bold" fill="#fff" textLength="44.32" lengthAdjust="spacingAndGlyphs" stroke="#fff" stroke-width="0.30">HEADER</text>
<clipPath id="fc978_493"><rect x="978.20" y="493.20" width="95.80" height="19.90" rx="3"/></clipPath><g clip-path="url(#fc978_493)"><rect x="978.20" y="493.20" width="40.20" height="19.90" fill="#c41f3b"/><path d="M1018.40 493.20V513.10" stroke="#0d1a30" stroke-width="0.8" opacity="0.5"/><rect x="1018.40" y="493.20" width="55.60" height="19.90" fill="#1e4a6e"/><path d="M1074.00 493.20V513.10" stroke="#0d1a30" stroke-width="0.8" opacity="0.5"/></g><rect x="978.20" y="493.20" width="95.80" height="19.90" rx="3" fill="none" stroke="#0d1a30" stroke-width="0.9" opacity="0.7"/><text x="982.45" y="507.95" font-size="13.37" font-weight="bold" fill="#fff" textLength="31.25" lengthAdjust="spacingAndGlyphs" stroke="#fff" stroke-width="0.30">DATA</text><text x="1023.80" y="507.95" font-size="13.37" font-weight="bold" fill="#fff" textLength="44.32" lengthAdjust="spacingAndGlyphs" stroke="#fff" stroke-width="0.30">HEADER</text><clipPath id="fc1080_493"><rect x="1080.40" y="493.20" width="216.10" height="19.90" rx="3"/></clipPath><g clip-path="url(#fc1080_493)"><rect x="1080.40" y="493.20" width="45.20" height="19.90" fill="#3a8f8c"/><path d="M1125.60 493.20V513.10" stroke="#0d1a30" stroke-width="0.8" opacity="0.5"/><rect x="1125.60" y="493.20" width="17.40" height="19.90" fill="#c41f3b"/><path d="M1143.00 493.20V513.10" stroke="#0d1a30" stroke-width="0.8" opacity="0.5"/><rect x="1143.00" y="493.20" width="42.20" height="19.90" fill="#3a8f8c"/><path d="M1185.20 493.20V513.10" stroke="#0d1a30" stroke-width="0.8" opacity="0.5"/><rect x="1185.20" y="493.20" width="55.10" height="19.90" fill="#c41f3b"/><path d="M1240.30 493.20V513.10" stroke="#0d1a30" stroke-width="0.8" opacity="0.5"/><rect x="1240.30" y="493.20" width="56.20" height="19.90" fill="#1e4a6e"/><path d="M1296.50 493.20V513.10" stroke="#0d1a30" stroke-width="0.8" opacity="0.5"/></g><rect x="1080.40" y="493.20" width="216.10" height="19.90" rx="3" fill="none" stroke="#0d1a30" stroke-width="0.9" opacity="0.7"/><text x="1087.15" y="507.95" font-size="13.37" font-weight="bold" fill="#fff" textLength="31.25" lengthAdjust="spacingAndGlyphs" stroke="#fff" stroke-width="0.30">DATA</text><text x="1131.50" y="507.95" font-size="13.37" font-weight="bold" fill="#fff" textLength="5.50" lengthAdjust="spacingAndGlyphs" stroke="#fff" stroke-width="0.30">4</text><text x="1148.25" y="507.95" font-size="13.37" font-weight="bold" fill="#fff" textLength="31.25" lengthAdjust="spacingAndGlyphs" stroke="#fff" stroke-width="0.30">DATA</text><text x="1190.35" y="507.95" font-size="13.37" font-weight="bold" fill="#fff" textLength="44.32" lengthAdjust="spacingAndGlyphs" stroke="#fff" stroke-width="0.30">HEADER</text><text x="1246.00" y="507.95" font-size="13.37" font-weight="bold" fill="#fff" textLength="44.32" lengthAdjust="spacingAndGlyphs" stroke="#fff" stroke-width="0.30">HEADER</text>
<circle cx="811.4" cy="622.3" r="57.5" fill="#e5e8ef"/>
<circle cx="862.6" cy="570" r="4.6" fill="#4a9e98"/>
<circle cx="854.5" cy="567.5" r="1.4" fill="#4a9e98"/>
<circle cx="868.6" cy="582" r="2.1" fill="#4a9e98"/>
<circle cx="767.5" cy="674" r="2.1" fill="#2f7f85"/>
<rect x="765.40" y="582.70" width="86.35" height="73.50" rx="4" fill="#f7f8fb" stroke="#16294a" stroke-width="1.6"/><path d="M765.40 594.90 V586.70 Q765.40 582.70 769.40 582.70 H847.75 Q851.75 582.70 851.75 586.70 V594.90 Z" fill="#213f62" stroke="#16294a" stroke-width="1.6"/><circle cx="772.70" cy="588.80" r="1.9" fill="#c9546e"/><circle cx="779.90" cy="588.80" r="1.9" fill="#dcc661"/><circle cx="787.10" cy="588.80" r="1.9" fill="#45a9a0"/>
<rect x="770" y="606" width="43" height="24" fill="#eceef3"/>
<rect x="770" y="634.5" width="12" height="16" fill="#eceef3"/>
<rect x="773.60" y="602.35" width="18.00" height="2.3" fill="#3a9490"/><rect x="793.80" y="602.35" width="49.50" height="2.3" fill="#d3d8e0"/><rect x="782.80" y="607.75" width="13.00" height="2.3" fill="#c0334f"/><rect x="797.80" y="607.75" width="29.00" height="2.3" fill="#d3d8e0"/><rect x="789.20" y="613.45" width="16.40" height="2.3" fill="#3a9490"/><rect x="806.80" y="613.45" width="6.00" height="2.3" fill="#d3d8e0"/><rect x="793.80" y="618.95" width="5.00" height="2.3" fill="#c0334f"/><rect x="801.80" y="618.95" width="11.00" height="2.3" fill="#3a9490"/><rect x="791.20" y="624.55" width="7.40" height="2.3" fill="#3a9490"/><rect x="800.80" y="624.55" width="3.00" height="2.3" fill="#3a9490"/><rect x="805.80" y="624.55" width="7.00" height="2.3" fill="#d3d8e0"/><rect x="773.60" y="635.35" width="6.20" height="2.3" fill="#3a9490"/><rect x="782.20" y="635.35" width="3.90" height="2.3" fill="#3a9490"/><rect x="788.70" y="635.35" width="24.10" height="2.3" fill="#d3d8e0"/><rect x="782.80" y="640.85" width="11.70" height="2.3" fill="#3a9490"/><rect x="796.50" y="640.85" width="16.30" height="2.3" fill="#d3d8e0"/><rect x="782.80" y="646.25" width="9.80" height="2.3" fill="#c0334f"/><rect x="795.50" y="646.25" width="17.30" height="2.3" fill="#3a9490"/>
<rect x="813.5" y="611.25" width="52.6" height="55.3" rx="4" fill="#213f62" stroke="#132744" stroke-width="1.6"/>
<path d="M813.5 619.7 V615.25 Q813.5 611.25 817.5 611.25 H862.1 Q866.1 611.25 866.1 615.25 V619.7 Z" fill="#3a78b5" stroke="#132744" stroke-width="1.2"/>
<circle cx="818.5" cy="615.5" r="1" fill="#fff"/><circle cx="822" cy="615.5" r="1" fill="#c9546e"/><circle cx="825.5" cy="615.5" r="1" fill="#8fd0c0"/>
<path d="M823.5 624.5l-3 2.9 3 2.9M831.5 624.5l3 2.9-3 2.9M828.7 623.5l-2.2 8" fill="none" stroke="#d8c274" stroke-width="1.2" stroke-linecap="round"/>
<rect x="825.80" y="633.05" width="8.90" height="1.9" fill="#c0334f"/>
<rect x="836.20" y="633.05" width="12.60" height="1.9" fill="#3a9490"/>
<rect x="828.00" y="638.05" width="9.30" height="1.9" fill="#3a9490"/>
<rect x="840.70" y="638.05" width="19.90" height="1.9" fill="#3a9490"/>
<rect x="828.00" y="643.05" width="10.50" height="1.9" fill="#3a9490"/>
<rect x="840.00" y="643.05" width="4.00" height="1.9" fill="#3a9490"/>
<rect x="845.75" y="643.05" width="11.05" height="1.9" fill="#3a9490"/>
<rect x="822.30" y="648.05" width="3.70" height="1.9" fill="#c0334f"/>
<rect x="827.40" y="648.05" width="8.80" height="1.9" fill="#c0334f"/>
<rect x="837.30" y="648.05" width="10.70" height="1.9" fill="#3a9490"/>
<rect x="828.00" y="653.45" width="6.00" height="1.9" fill="#3a9490"/>
<rect x="835.60" y="653.45" width="15.00" height="1.9" fill="#3a9490"/>
<rect x="822.30" y="658.55" width="2.70" height="1.9" fill="#3a9490"/>
<rect x="826.70" y="658.55" width="9.50" height="1.9" fill="#3a9490"/>
<text x="976.75" y="561.00" font-size="14.97" font-weight="bold" fill="#111418" textLength="146.01" lengthAdjust="spacingAndGlyphs" stroke="#111418" stroke-width="0.30">MULTIPLEXED FLOW</text>
<rect x="910.8" y="580.50" width="70.4" height="19.25" rx="4" fill="#17304f" stroke="#0b1a30" stroke-width="0.8"/>
<text x="918.48" y="594.82" font-size="13.23" font-weight="bold" fill="#fff" textLength="55.32" lengthAdjust="spacingAndGlyphs" stroke="#fff" stroke-width="0.30">STREAM 1</text>
<path d="M981.00 590.12H1179.00" stroke="#1b2d4a" stroke-width="1.80"/><polygon points="1187.00,590.12 1178.00,585.12 1178.00,595.12" fill="#1b2d4a"/>
<rect x="910.8" y="604.60" width="70.4" height="19.00" rx="4" fill="#17304f" stroke="#0b1a30" stroke-width="0.8"/>
<text x="918.48" y="618.80" font-size="13.23" font-weight="bold" fill="#fff" textLength="55.46" lengthAdjust="spacingAndGlyphs" stroke="#fff" stroke-width="0.30">STREAM 2</text>
<path d="M981.00 614.10H1179.00" stroke="#1b2d4a" stroke-width="1.80"/><polygon points="1187.00,614.10 1178.00,609.10 1178.00,619.10" fill="#1b2d4a"/>
<rect x="910.8" y="628.50" width="70.4" height="19.50" rx="4" fill="#17304f" stroke="#0b1a30" stroke-width="0.8"/>
<text x="918.48" y="642.95" font-size="13.23" font-weight="bold" fill="#fff" textLength="55.41" lengthAdjust="spacingAndGlyphs" stroke="#fff" stroke-width="0.30">STREAM 3</text>
<path d="M981.00 638.25H1179.00" stroke="#1b2d4a" stroke-width="1.80"/><polygon points="1187.00,638.25 1178.00,633.25 1178.00,643.25" fill="#1b2d4a"/>
<rect x="910.8" y="652.90" width="70.4" height="19.40" rx="4" fill="#17304f" stroke="#0b1a30" stroke-width="0.8"/>
<text x="918.49" y="667.30" font-size="13.23" font-weight="bold" fill="#fff" textLength="55.07" lengthAdjust="spacingAndGlyphs" stroke="#fff" stroke-width="0.30">STREAM 4</text>
<path d="M981.00 662.60H1179.00" stroke="#1b2d4a" stroke-width="1.80"/><polygon points="1187.00,662.60 1178.00,657.60 1178.00,667.60" fill="#1b2d4a"/>
<rect x="910.8" y="676.75" width="70.4" height="19.45" rx="4" fill="#17304f" stroke="#0b1a30" stroke-width="0.8"/>
<text x="918.48" y="691.17" font-size="13.23" font-weight="bold" fill="#fff" textLength="55.32" lengthAdjust="spacingAndGlyphs" stroke="#fff" stroke-width="0.30">STREAM 5</text>
<path d="M981.00 686.48H1179.00" stroke="#1b2d4a" stroke-width="1.80"/><polygon points="1187.00,686.48 1178.00,681.48 1178.00,691.48" fill="#1b2d4a"/>
<clipPath id="bc581"><rect x="1015.00" y="581.00" width="75.70" height="18.80" rx="3.5"/></clipPath><g clip-path="url(#bc581)"><rect x="1015.00" y="581.00" width="31.40" height="18.80" fill="#3a8f8c"/><path d="M1046.40 581.00V599.80" stroke="#0d1a30" stroke-width="0.8" opacity="0.6"/><rect x="1046.40" y="581.00" width="23.60" height="18.80" fill="#1e4a6e"/><path d="M1070.00 581.00V599.80" stroke="#0d1a30" stroke-width="0.8" opacity="0.6"/><rect x="1070.00" y="581.00" width="20.70" height="18.80" fill="#c41f3b"/></g><rect x="1015.00" y="581.00" width="75.70" height="18.80" rx="3.5" fill="none" stroke="#0d1a30" stroke-width="1" opacity="0.8"/>
<clipPath id="bc604"><rect x="1046.40" y="604.90" width="102.50" height="19.20" rx="3.5"/></clipPath><g clip-path="url(#bc604)"><rect x="1046.40" y="604.90" width="31.00" height="19.20" fill="#3a8f8c"/><path d="M1077.40 604.90V624.10" stroke="#0d1a30" stroke-width="0.8" opacity="0.6"/><rect x="1077.40" y="604.90" width="38.30" height="19.20" fill="#1e4a6e"/><path d="M1115.70 604.90V624.10" stroke="#0d1a30" stroke-width="0.8" opacity="0.6"/><rect x="1115.70" y="604.90" width="33.20" height="19.20" fill="#c41f3b"/></g><rect x="1046.40" y="604.90" width="102.50" height="19.20" rx="3.5" fill="none" stroke="#0d1a30" stroke-width="1" opacity="0.8"/>
<clipPath id="bc629"><rect x="1046.40" y="629.20" width="84.10" height="18.80" rx="3.5"/></clipPath><g clip-path="url(#bc629)"><rect x="1046.40" y="629.20" width="31.00" height="18.80" fill="#3a8f8c"/><path d="M1077.40 629.20V648.00" stroke="#0d1a30" stroke-width="0.8" opacity="0.6"/><rect x="1077.40" y="629.20" width="32.10" height="18.80" fill="#1e4a6e"/><path d="M1109.50 629.20V648.00" stroke="#0d1a30" stroke-width="0.8" opacity="0.6"/><rect x="1109.50" y="629.20" width="21.00" height="18.80" fill="#c41f3b"/></g><rect x="1046.40" y="629.20" width="84.10" height="18.80" rx="3.5" fill="none" stroke="#0d1a30" stroke-width="1" opacity="0.8"/>
<clipPath id="bc652"><rect x="1139.40" y="652.90" width="21.40" height="19.50" rx="3.5"/></clipPath><g clip-path="url(#bc652)"><rect x="1139.40" y="652.90" width="21.40" height="19.50" fill="#3a8f8c"/></g><rect x="1139.40" y="652.90" width="21.40" height="19.50" rx="3.5" fill="none" stroke="#0d1a30" stroke-width="1" opacity="0.8"/>
<polygon points="1199,589.50 1210.1,599.90 1199,610.30" fill="#c01f3c"/>
<polygon points="1199,630.10 1210.1,640.50 1199,650.90" fill="#c01f3c"/>
<polygon points="1199,662.60 1210.1,673.00 1199,683.40" fill="#c01f3c"/>
<text x="1216.44" y="597.10" font-size="12.50" font-weight="bold" fill="#111418" textLength="64.63" lengthAdjust="spacingAndGlyphs" stroke="#111418" stroke-width="0.30">PARALLEL</text>
<text x="1216.43" y="612.30" font-size="12.79" font-weight="bold" fill="#111418" textLength="81.53" lengthAdjust="spacingAndGlyphs" stroke="#111418" stroke-width="0.30">PROCESSING</text>
<text x="1216.40" y="637.40" font-size="13.08" font-weight="bold" fill="#111418" textLength="113.90" lengthAdjust="spacingAndGlyphs" stroke="#111418" stroke-width="0.30">NO HEAD-OF-LINE</text>
<text x="1216.42" y="651.90" font-size="12.79" font-weight="bold" fill="#111418" textLength="66.35" lengthAdjust="spacingAndGlyphs" stroke="#111418" stroke-width="0.30">BLOCKING</text>
<text x="1216.44" y="677.50" font-size="13.08" font-weight="bold" fill="#111418" textLength="123.57" lengthAdjust="spacingAndGlyphs" stroke="#111418" stroke-width="0.30">FASTER PAGE LOAD</text>
</svg></body></html>
